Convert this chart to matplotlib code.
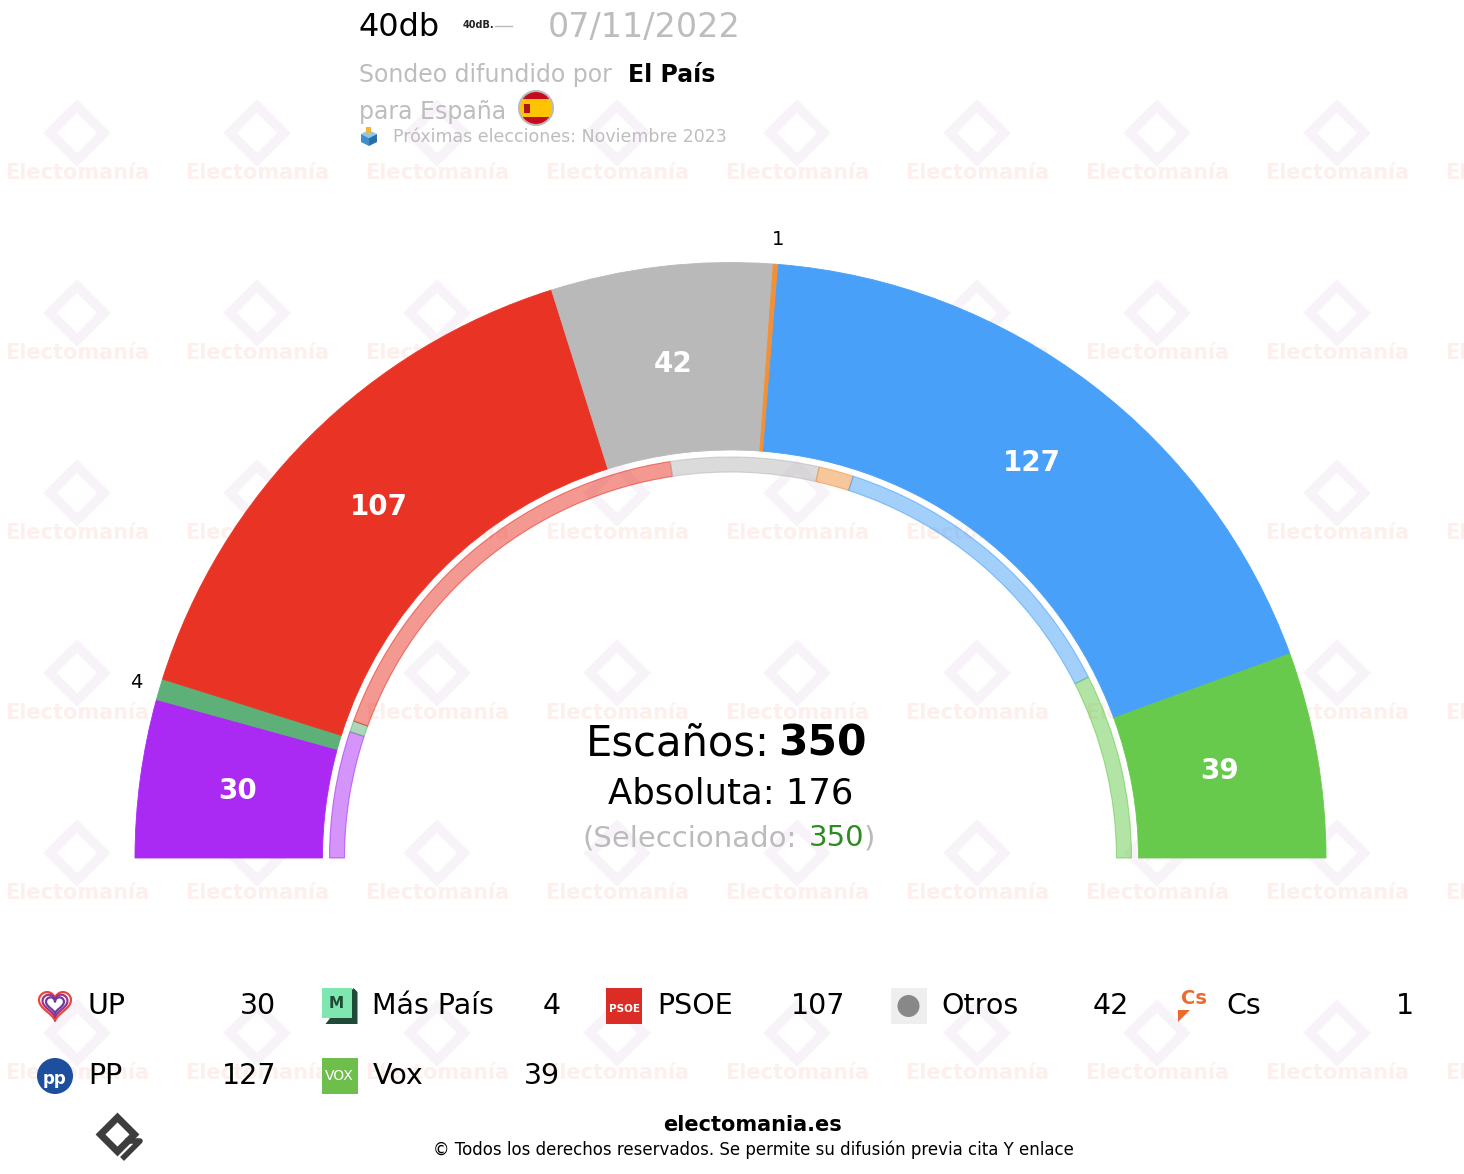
import matplotlib.pyplot as plt
from matplotlib.patches import Rectangle, Circle, Polygon
from matplotlib.colors import to_rgba
import numpy as np

W, H = 1464, 1174

# Datos del sondeo (40db para El País, 07/11/2022)
partidos = ['UP', 'Más País', 'PSOE', 'Otros', 'Cs', 'PP', 'Vox']
escanos = [30, 4, 107, 42, 1, 127, 39]
colores = ['#AA2AF4', '#5DB078', '#E93425', '#B9B9B9', '#F0913A', '#48A0F8', '#67CA4C']
# anillo interior (porcentaje del semicirculo)
anillo_int = [10.2, 0.9, 34.1, 11.9, 2.8, 25.2, 14.9]

total = sum(escanos)
absoluta = total // 2 + 1


def Y(y):
    # coordenadas de pixel con y hacia abajo
    return H - y


fig = plt.figure(figsize=(W / 100, H / 100), dpi=100)
ax = fig.add_axes([0, 0, 1, 1])

cx, cy = 730.5, Y(858)

# marca de agua
for wy in [-7, 173, 353, 533, 713, 893, 1073]:
    for wx in range(77, W + 120, 180):
        ax.text(wx, Y(wy), 'Electomanía', ha='center', va='center', fontsize=15,
                fontweight='bold', color='#FDEFEC', zorder=0)
        ax.plot(wx, Y(wy - 40), marker='D', ms=28, mfc='none', mec='#F8F2F9',
                mew=7, zorder=0)

# anillo principal (escaños)
w1, _ = ax.pie(escanos + [total], colors=colores + ['none'], startangle=180,
               counterclock=False, radius=595.5, center=(cx, cy),
               wedgeprops=dict(width=187.5, linewidth=0))
for w, c in zip(w1, colores):
    w.set_edgecolor(c)
    w.set_linewidth(0.6)
    w.set_zorder(2)
w1[-1].set_visible(False)

# anillo interior
w2, _ = ax.pie(anillo_int + [sum(anillo_int)], colors=colores + ['none'], startangle=180,
               counterclock=False, radius=401, center=(cx, cy),
               wedgeprops=dict(width=15, linewidth=0))
for w, c in zip(w2, colores):
    w.set_facecolor(to_rgba(c, 0.5))
    w.set_edgecolor(to_rgba(c, 0.6))
    w.set_linewidth(0.8)
    w.set_zorder(2)
w2[-1].set_visible(False)

# etiquetas de escaños
acum = 0
for n in escanos:
    ang = np.deg2rad(180 - (acum + n / 2) / total * 180)
    acum += n
    if n >= 10:
        r = 497
        ax.text(cx + r * np.cos(ang), cy + r * np.sin(ang), str(n), ha='center', va='center',
                fontsize=20, fontweight='bold', color='white', zorder=3)
    else:
        r = 620
        ax.text(cx + r * np.cos(ang), cy + r * np.sin(ang), str(n), ha='center', va='center',
                fontsize=14, color='black', zorder=3)

# texto central
ax.text(770, Y(743), 'Escaños:', ha='right', va='center', fontsize=30, zorder=3)
ax.text(778, Y(743), str(total), ha='left', va='center', fontsize=30.5, fontweight='bold', zorder=3)
ax.text(730.5, Y(793), f'Absoluta: {absoluta}', ha='center', va='center', fontsize=25.5, zorder=3)
ax.text(797, Y(838), '(Seleccionado:', ha='right', va='center', fontsize=21, color='#BBBBBB', zorder=3)
ax.text(809, Y(838), str(total), ha='left', va='center', fontsize=21, color='#2E8B22', zorder=3)
ax.text(864, Y(838), ')', ha='left', va='center', fontsize=21, color='#BBBBBB', zorder=3)

# cabecera
ax.text(359, Y(28), '40db', ha='left', va='center', fontsize=23, color='black')
ax.text(463, Y(25), '40dB.', ha='left', va='center', fontsize=7, fontweight='bold', color='#222222')
ax.plot([495, 512], [Y(26), Y(26)], color='#BBBBBB', lw=1)
ax.text(548, Y(28), '07/11/2022', ha='left', va='center', fontsize=24, color='#BDBDBD')
ax.text(359, Y(75), 'Sondeo difundido por', ha='left', va='center', fontsize=17, color='#BDBDBD')
ax.text(628, Y(75), 'El País', ha='left', va='center', fontsize=17, fontweight='bold', color='black')
ax.text(359, Y(112), 'para España', ha='left', va='center', fontsize=17, color='#BDBDBD')

# bandera
flag = Circle((536, Y(108)), 17, facecolor='none', edgecolor='#BBBBBB', lw=1.5, zorder=4)
ax.add_patch(flag)
r1 = Rectangle((518, Y(126)), 36, 36, facecolor='#C60B1E', zorder=3)
r2 = Rectangle((518, Y(117)), 36, 18, facecolor='#FFC400', zorder=3)
for p in (r1, r2):
    ax.add_patch(p)
    p.set_clip_path(flag)
ax.add_patch(Rectangle((524, Y(113)), 6, 9, facecolor='#AD1519', zorder=4))

# urna
ax.add_patch(Polygon([(361, Y(134)), (369, Y(130)), (377, Y(134)), (369, Y(138))],
                     facecolor='#8CC8EE', zorder=3))
ax.add_patch(Polygon([(361, Y(134)), (369, Y(138)), (369, Y(146)), (361, Y(142))],
                     facecolor='#3F8FCB', zorder=3))
ax.add_patch(Polygon([(369, Y(138)), (377, Y(134)), (377, Y(142)), (369, Y(146))],
                     facecolor='#2A6FA8', zorder=3))
ax.add_patch(Rectangle((366, Y(133)), 5, 6, facecolor='#F4B43B', zorder=3))
ax.text(393, Y(137), 'Próximas elecciones: Noviembre 2023', ha='left', va='center',
        fontsize=12.5, color='#BDBDBD')


# iconos de la leyenda
def icono(nombre, x, y):
    if nombre == 'UP':
        t = np.linspace(0, 2 * np.pi, 100)
        hx = 16 * np.sin(t) ** 3
        hy = 13 * np.cos(t) - 5 * np.cos(2 * t) - 2 * np.cos(3 * t) - np.cos(4 * t)
        for s, col in zip([1.0, 0.78, 0.56], ['#E8473A', '#A0308C', '#6C3BA0']):
            ax.plot(x + s * hx, y + 2 + s * hy, color=col, lw=1.6, zorder=3)
    elif nombre == 'Más País':
        ax.add_patch(Polygon([(x - 14, y - 18), (x + 18, y - 18), (x + 18, y + 14), (x + 14, y + 18)],
                             facecolor='#1E4A36', zorder=3))
        ax.add_patch(Rectangle((x - 18, y - 12), 30, 30, facecolor='#7EE6AE', zorder=3))
        ax.text(x - 3, y + 3, 'M', ha='center', va='center', fontsize=11, fontweight='bold',
                color='#1E4A36', zorder=4)
    elif nombre == 'PSOE':
        ax.add_patch(Rectangle((x - 18, y - 18), 36, 36, facecolor='#DB2D26', zorder=3))
        ax.text(x, y - 3, 'PSOE', ha='center', va='center', fontsize=7.5, fontweight='bold',
                color='white', zorder=4)
    elif nombre == 'Otros':
        ax.add_patch(Rectangle((x - 18, y - 18), 36, 36, facecolor='#EEEEEE', zorder=3))
        ax.add_patch(Circle((x, y), 11, facecolor='#888888', zorder=4))
    elif nombre == 'Cs':
        ax.text(x + 1, y + 8, 'Cs', ha='center', va='center', fontsize=14, fontweight='bold',
                color='#EB6A2C', zorder=3)
        ax.add_patch(Polygon([(x - 15, y - 4), (x - 3, y - 4), (x - 15, y - 16)],
                             facecolor='#EB6A2C', zorder=3))
    elif nombre == 'PP':
        ax.add_patch(Circle((x, y), 18, facecolor='#1D4F9E', zorder=3))
        ax.text(x, y - 3, 'pp', ha='center', va='center', fontsize=12, fontweight='bold',
                color='white', zorder=4)
    elif nombre == 'Vox':
        ax.add_patch(Rectangle((x - 18, y - 18), 36, 36, facecolor='#6DBE4B', zorder=3))
        ax.text(x, y, 'VOX', ha='center', va='center', fontsize=10, color='white', zorder=4)


for i, (nombre, n) in enumerate(zip(partidos, escanos)):
    fila, col = divmod(i, 5)
    y = Y(1006 + 70 * fila)
    dx = 284.5 * col
    icono(nombre, 55 + dx, y)
    ax.text(88 + dx, y, nombre, ha='left', va='center', fontsize=20.5, zorder=3)
    ax.text(276 + dx, y, str(n), ha='right', va='center', fontsize=20.5, zorder=3)

# pie de pagina
ax.text(753, Y(1125), 'electomania.es', ha='center', va='center', fontsize=15,
        fontweight='bold', color='black')
ax.text(753, Y(1150), '© Todos los derechos reservados. Se permite su difusión previa cita Y enlace',
        ha='center', va='center', fontsize=12, color='black')
ax.plot(117, Y(1134), marker='D', ms=17, mfc='none', mec='#3D3D3D', mew=5)
ax.plot([124, 140, 128], [Y(1157), Y(1141), Y(1141)], color='#3D3D3D', lw=4)

ax.set_xlim(0, W)
ax.set_ylim(0, H)
ax.set_aspect('equal')
ax.axis('off')

fig.savefig('out.png', dpi=100, facecolor='white')
